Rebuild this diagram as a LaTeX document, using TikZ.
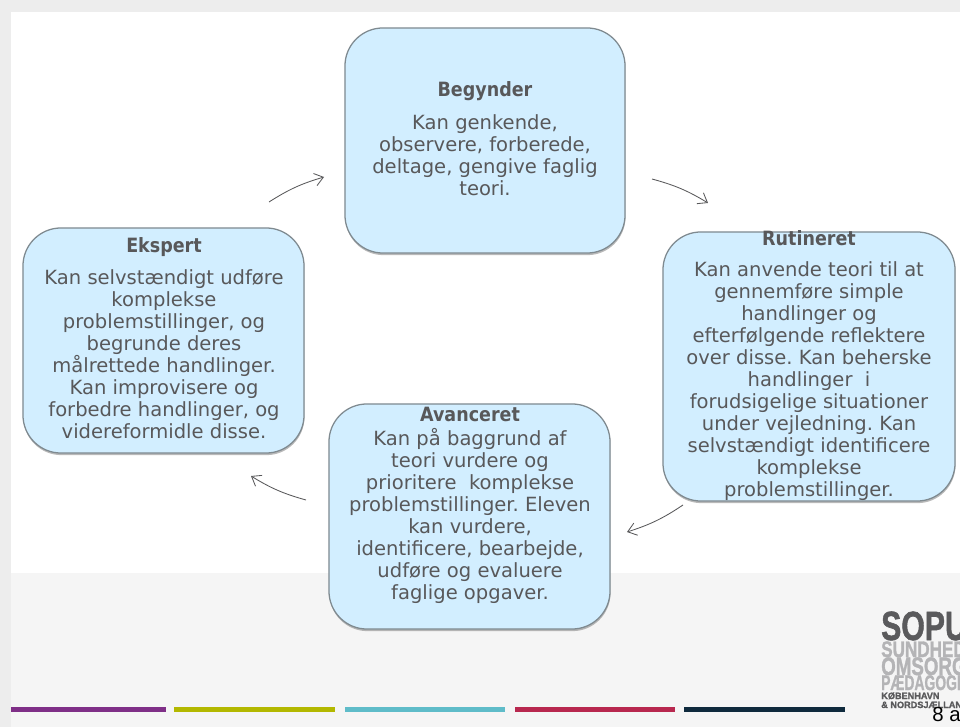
\documentclass[tikz,border=0pt]{standalone}
\usepackage{fontspec}
\setmainfont{DejaVu Sans}
\newfontfamily\logofont[BoldFeatures={FakeBold=1.5}]{Liberation Sans}
\newfontfamily\headfont[FakeStretch=0.89]{DejaVu Sans Bold}
\usetikzlibrary{shadows}
\usetikzlibrary{arrows.meta}

\definecolor{boxfill}{HTML}{D2EEFF}
\definecolor{boxline}{HTML}{7F8A90}
\definecolor{boxtext}{HTML}{58585A}
\definecolor{logodark}{HTML}{5A5A5C}
\definecolor{logolight}{HTML}{B4B4B6}

\tikzset{
    levelbox/.style={draw=boxline, fill=boxfill, line width=0.9pt, rounded corners=0.95cm,
        drop shadow={shadow xshift=0.3pt, shadow yshift=-1.5pt, opacity=0.55}},
    leveltext/.style={align=center, text=boxtext, inner sep=0pt,
        font=\fontsize{13.9}{15.65}\selectfont\frenchspacing},
    flow/.style={draw=boxtext, line width=0.6pt, -{Straight Barb[length=6pt,width=9pt]}},
    logoline/.style={anchor=base west, inner sep=0pt, font=\logofont\bfseries},
}
\newcommand{\heading}[1]{{\headfont\fontsize{14}{15.65}\selectfont #1}}

\begin{document}
\begin{tikzpicture}[x=0.025cm, y=-0.025cm]

    \useasboundingbox (0, 0) rectangle (960, 727);

    % Make the slide background
    \fill[white] (0, 0) rectangle (960, 727);
    \fill[black!7] (0, 0) rectangle (960, 12);
    \fill[black!7] (0, 0) rectangle (11, 727);
    \fill[black!4] (11, 573) rectangle (960, 727);

    % Make the colour bars
    \foreach \xa/\xb/\barcolor in {11/166/7F2F87, 174/335/B3B800, 345/505/5FBCC9, 515/675/B8284F, 684/845/0F2A3D}{
        \definecolor{barfill}{HTML}{\barcolor}
        \fill[barfill] (\xa, 707) rectangle (\xb, 712);
    }

    % Make the boxes
    \node[levelbox, minimum width=7cm, minimum height=5.625cm] (begynder) at (485, 140.5) {};
    \node[levelbox, minimum width=7.025cm, minimum height=5.625cm] (ekspert) at (163.5, 340.5) {};
    \node[levelbox, minimum width=7.3cm, minimum height=6.725cm] (rutineret) at (809, 366.5) {};
    \node[levelbox, minimum width=7.025cm, minimum height=5.625cm] (avanceret) at (469.5, 516.5) {};

    % Make the texts
    \node[leveltext] (begynderText) at (485, 139) {\heading{Begynder}\\[8pt]
        Kan genkende,\\observere, forberede,\\deltage, gengive faglig\\teori.};
    \node[leveltext] (ekspertText) at (164, 338) {\heading{Ekspert}\\[6.7pt]
        Kan selvstændigt udføre\\komplekse\\problemstillinger, og\\begrunde deres\\målrettede handlinger.\\Kan improvisere og\\forbedre handlinger, og\\videreformidle disse.};
    \node[leveltext] (rutineretText) at (809, 365.5) {\heading{Rutineret}\\[6.7pt]
        Kan anvende teori til at\\gennemføre simple\\handlinger og\\efterfølgende reflektere\\over disse. Kan beherske\\handlinger\ \ i\\forudsigelige situationer\\under vejledning. Kan\\selvstændigt identificere\\komplekse\\problemstillinger.};
    \node[leveltext] (avanceretText) at (470, 505.5) {\heading{Avanceret}\\[1pt]
        Kan på baggrund af\\teori vurdere og\\prioritere\ \ komplekse\\problemstillinger. Eleven\\kan vurdere,\\identificere, bearbejde,\\udføre og evaluere\\faglige opgaver.};

    % Make the arrows
    \coordinate (ekspertOut) at (269, 202);
    \coordinate (begynderIn) at (324, 177);
    \coordinate (begynderOut) at (652, 179);
    \coordinate (rutineretIn) at (708, 203);
    \coordinate (rutineretOut) at (683, 505);
    \coordinate (avanceretIn) at (627, 532);
    \coordinate (avanceretOut) at (306, 500);
    \coordinate (ekspertIn) at (251, 476);

    \draw[flow] (ekspertOut) to[bend left=8] (begynderIn);
    \draw[flow] (begynderOut) to[bend left=8] (rutineretIn);
    \draw[flow] (rutineretOut) to[bend left=8] (avanceretIn);
    \draw[flow] (avanceretOut) to[bend left=8] (ekspertIn);

    % Make the logo
    \begin{scope}
        \clip (860, 600) rectangle (960, 727);
        \node[logoline, text=logodark, font=\logofont\bfseries\fontsize{29}{29}\selectfont, xscale=0.74] (logoSopu) at (881, 640) {SOPU};
        \node[logoline, text=logolight, font=\logofont\bfseries\fontsize{16}{16}\selectfont, xscale=0.76] (logoSundhed) at (881, 657) {SUNDHED};
        \node[logoline, text=logolight, font=\logofont\bfseries\fontsize{18}{18}\selectfont, xscale=0.74] (logoOmsorg) at (881, 675) {OMSORG};
        \node[logoline, text=logolight, font=\logofont\bfseries\fontsize{15}{15}\selectfont, xscale=0.66] (logoPaed) at (881, 690) {PÆDAGOGIK};
        \node[logoline, text=logodark, font=\logofont\bfseries\fontsize{6.5}{6.5}\selectfont] (logoKbh) at (881, 699) {KØBENHAVN};
        \node[logoline, text=logodark, font=\logofont\bfseries\fontsize{6.5}{6.5}\selectfont] (logoNord) at (881, 708) {\& NORDSJÆLLAND};
        \node[logoline, text=black, font=\logofont\fontsize{14.5}{14.5}\selectfont] (pageNumber) at (932, 721) {8 af};
    \end{scope}

\end{tikzpicture}
\end{document}
